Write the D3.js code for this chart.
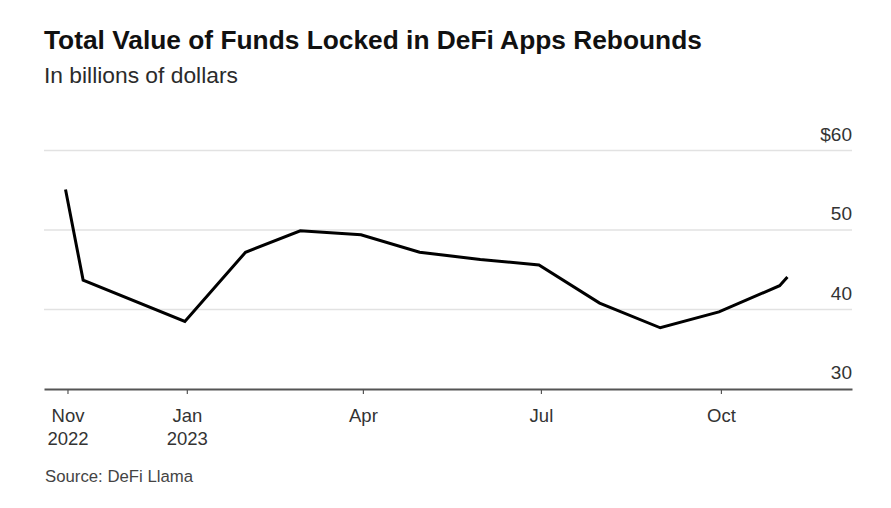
<!DOCTYPE html>
<html>
<head>
<meta charset="utf-8">
<script src="https://cdn.jsdelivr.net/npm/d3@7"></script>
<style>
  html, body { margin: 0; padding: 0; background: #fff; }
  svg { display: block; font-family: "Liberation Sans", Arial, Helvetica, sans-serif; }
</style>
</head>
<body>
<svg id="chart" width="891" height="508"></svg>
<script>
// ---- Data ----
const dates = ["2022-10-31", "2022-11-09", "2022-12-31", "2023-01-31", "2023-02-28", "2023-03-31",
               "2023-04-30", "2023-05-31", "2023-06-30", "2023-07-31", "2023-08-31", "2023-09-30",
               "2023-10-31", "2023-11-04"];
const tvlValues = [55.1, 43.7, 38.5, 47.2, 49.9, 49.4, 47.2, 46.3, 45.6, 40.8, 37.7, 39.7, 43.0, 44.1];
const xTickDates = ["2022-11-01", "2023-01-01", "2023-04-01", "2023-07-01", "2023-10-01"];
const xTickLabels = [["Nov", "2022"], ["Jan", "2023"], ["Apr"], ["Jul"], ["Oct"]];
const yTicks = [30, 40, 50, 60];
const yTickLabels = ["30", "40", "50", "$60"];
const xDomain = ["2022-10-20", "2023-12-07"];
const yDomain = [30, 60];

const title = "Total Value of Funds Locked in DeFi Apps Rebounds";
const subtitle = "In billions of dollars";
const source = "Source: DeFi Llama";

// ---- Setup ----
const parse = d3.timeParse("%Y-%m-%d");
const svg = d3.select("#chart");
const plotLeft = 44, plotRight = 852, plotTop = 150.5, plotBottom = 389;

const x = d3.scaleTime().domain(xDomain.map(parse)).range([plotLeft, plotRight]);
const y = d3.scaleLinear().domain(yDomain).range([plotBottom, plotTop]);

function fitWidth(sel, target) {
  const node = sel.node();
  const w = node.getComputedTextLength();
  const fs = parseFloat(sel.attr("font-size"));
  if (w > 0) sel.attr("font-size", (fs * target / w).toFixed(2));
}

// Title & subtitle
const t = svg.append("text").attr("x", 44).attr("y", 48.5)
  .attr("font-size", 23).attr("font-weight", "bold").attr("fill", "#111").text(title);
fitWidth(t, 658);
const st = svg.append("text").attr("x", 44).attr("y", 82.5)
  .attr("font-size", 22).attr("fill", "#2b2b2b").text(subtitle);
fitWidth(st, 194);

// Gridlines
svg.append("g").selectAll("line")
  .data(yTicks.filter(v => v !== 30))
  .join("line")
  .attr("x1", plotLeft).attr("x2", plotRight)
  .attr("y1", d => y(d)).attr("y2", d => y(d))
  .attr("stroke", "#e2e2e2").attr("stroke-width", 1.5);

// Y labels
svg.append("g").selectAll("text")
  .data(yTicks)
  .join("text")
  .attr("x", plotRight)
  .attr("y", d => y(d) - 10)
  .attr("text-anchor", "end")
  .attr("font-size", 19)
  .attr("fill", "#333")
  .text((d, i) => yTickLabels[i]);

// X axis
const xAxis = d3.axisBottom(x)
  .tickValues(xTickDates.map(parse))
  .tickSize(5)
  .tickSizeOuter(0)
  .tickFormat("");
const gx = svg.append("g").attr("transform", `translate(0,${plotBottom})`).call(xAxis);
gx.select(".domain").attr("stroke", "#555").attr("stroke-width", 1.8);
gx.selectAll(".tick line").attr("stroke", "#555").attr("stroke-width", 1.2);
gx.selectAll(".tick").each(function(d, i) {
  const g = d3.select(this);
  const lines = xTickLabels[i];
  lines.forEach((s, j) => {
    g.append("text")
      .attr("x", 0)
      .attr("y", 32.5 + j * 23.5)
      .attr("text-anchor", "middle")
      .attr("font-size", 18.5)
      .attr("font-family", "'Liberation Sans', Arial, Helvetica, sans-serif")
      .attr("fill", "#333")
      .text(s);
  });
});

// Line
const line = d3.line()
  .x((d, i) => x(parse(dates[i])))
  .y(d => y(d));
svg.append("path")
  .datum(tvlValues)
  .attr("d", line)
  .attr("fill", "none")
  .attr("stroke", "#000")
  .attr("stroke-width", 3);

// Source
const src = svg.append("text").attr("x", 45).attr("y", 482)
  .attr("font-size", 17.5).attr("fill", "#444").text(source);
fitWidth(src, 148);
</script>
</body>
</html>
